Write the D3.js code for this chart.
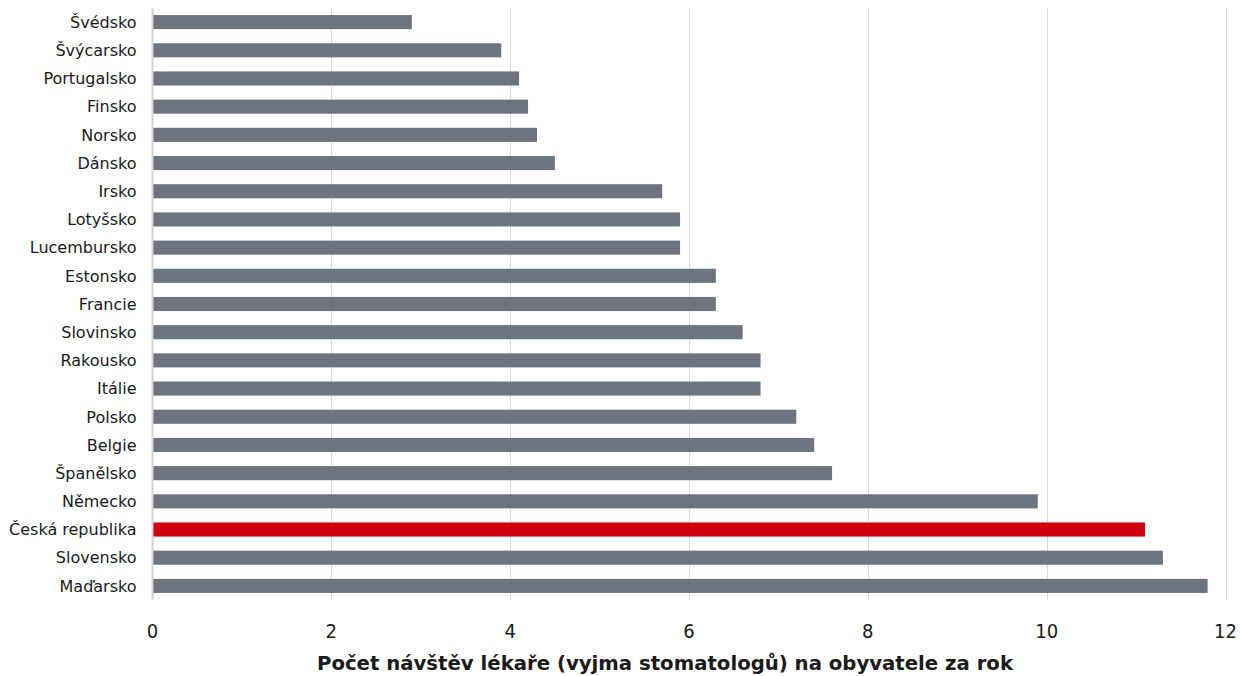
<!DOCTYPE html>
<html>
<head>
<meta charset="utf-8">
<script src="https://cdn.jsdelivr.net/npm/d3@7"></script>
<style>
  html, body { margin: 0; padding: 0; background: #fff; }
  svg { display: block; }
</style>
</head>
<body>
<svg id="chart" width="1240" height="676"></svg>
<script>
// Počet návštěv lékaře na obyvatele za rok
const countries = [
  "Švédsko", "Švýcarsko", "Portugalsko", "Finsko", "Norsko", "Dánsko",
  "Irsko", "Lotyšsko", "Lucembursko", "Estonsko", "Francie", "Slovinsko",
  "Rakousko", "Itálie", "Polsko", "Belgie", "Španělsko", "Německo",
  "Česká republika", "Slovensko", "Maďarsko"
];
const visits = [
  2.9, 3.9, 4.1, 4.2, 4.3, 4.5,
  5.7, 5.9, 5.9, 6.3, 6.3, 6.6,
  6.8, 6.8, 7.2, 7.4, 7.6, 9.9,
  11.1, 11.3, 11.8
];
const xTicks = [0, 2, 4, 6, 8, 10, 12];
const highlight = "Česká republika";
const axisTitle = "Počet návštěv lékaře (vyjma stomatologů) na obyvatele za rok";

const svg = d3.select("#chart");
const plot = { left: 152.5, right: 1225.5, top: 8, bottom: 600 };

const x = d3.scaleLinear().domain([0, 12]).range([plot.left, plot.right]);
const y = d3.scaleBand().domain(countries).range([plot.top, plot.bottom])
  .paddingInner(0.5).paddingOuter(0.25);

// vertical gridlines
svg.append("g").selectAll("line").data(xTicks.slice(1)).join("line")
  .attr("x1", d => Math.round(x(d)) + 0.5).attr("x2", d => Math.round(x(d)) + 0.5)
  .attr("y1", plot.top).attr("y2", plot.bottom)
  .attr("stroke", "#d9d9d9").attr("stroke-width", 1);

// bars
const data = countries.map((c, i) => ({ c, v: visits[i] }));
svg.append("g").selectAll("rect").data(data).join("rect")
  .attr("x", x(0))
  .attr("y", d => y(d.c))
  .attr("width", d => x(d.v) - x(0))
  .attr("height", y.bandwidth())
  .attr("fill", d => d.c === highlight ? "#d0000f" : "#6d747f");

// zero axis line
svg.append("line")
  .attr("x1", x(0)).attr("x2", x(0)).attr("y1", plot.top).attr("y2", plot.bottom)
  .attr("stroke", "#d4d4d4").attr("stroke-width", 2);

// category labels
svg.append("g").selectAll("text").data(countries).join("text")
  .attr("x", x(0) - 16)
  .attr("y", d => y(d) + y.bandwidth() / 2)
  .attr("dy", "0.36em")
  .attr("text-anchor", "end")
  .attr("font-family", "DejaVu Sans, sans-serif")
  .attr("font-size", 16)
  .attr("fill", "#1a1a1a")
  .text(d => d);

// tick labels
svg.append("g").selectAll("text").data(xTicks).join("text")
  .attr("x", d => x(d))
  .attr("y", 638)
  .attr("text-anchor", "middle")
  .attr("font-family", "DejaVu Sans Condensed, DejaVu Sans, sans-serif")
  .attr("font-size", 20)
  .attr("fill", "#1a1a1a")
  .text(d => d);

// axis title
svg.append("text")
  .attr("x", 665)
  .attr("y", 670)
  .attr("text-anchor", "middle")
  .attr("font-family", "DejaVu Sans, sans-serif")
  .attr("font-weight", "bold")
  .attr("font-size", 19.7)
  .attr("fill", "#1a1a1a")
  .text(axisTitle);
</script>
</body>
</html>
